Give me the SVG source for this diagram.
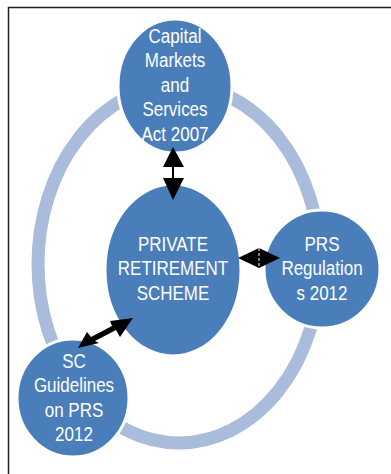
<svg xmlns="http://www.w3.org/2000/svg" width="391" height="474" viewBox="0 0 391 474">
<style>
.node{fill:#4a7ebb;stroke:#ffffff;stroke-width:3}
.lbl{font-family:"Liberation Sans Narrow","Liberation Sans",Arial,sans-serif;font-size:17px;fill:#ffffff;text-anchor:middle}
.ring{fill:none;stroke:#a9bcdb;stroke-width:13}
.arr{fill:#000000}
</style>
<rect x="0" y="0" width="391" height="474" fill="#ffffff"/>
<path d="M8.5 474 V7.5 H391" fill="none" stroke="#222222" stroke-width="1.5"/>
<ellipse class="ring" cx="179" cy="264" rx="141" ry="179"/>
<g id="node-capital">
<ellipse class="node" cx="175" cy="86" rx="57" ry="67"/>
<g transform="translate(175,43) scale(1,1.15)"><text class="lbl"><tspan x="0" y="0">Capital</tspan><tspan x="0" y="21.3">Markets</tspan><tspan x="0" y="42.6">and</tspan><tspan x="0" y="63.9">Services</tspan><tspan x="0" y="85.2">Act 2007</tspan></text></g>
</g>
<g id="node-prs-scheme">
<ellipse class="node" cx="173" cy="270" rx="68" ry="86"/>
<g transform="translate(173,251) scale(1,1.15)"><text class="lbl"><tspan x="0" y="0">PRIVATE</tspan><tspan x="0" y="21.3">RETIREMENT</tspan><tspan x="0" y="42.6">SCHEME</tspan></text></g>
</g>
<g id="node-regulations">
<ellipse class="node" cx="322" cy="269" rx="58" ry="59"/>
<g transform="translate(322,251) scale(1,1.15)"><text class="lbl"><tspan x="0" y="0">PRS</tspan><tspan x="0" y="21.3">Regulation</tspan><tspan x="0" y="42.6">s 2012</tspan></text></g>
</g>
<g id="node-guidelines">
<ellipse class="node" cx="73" cy="398" rx="56" ry="59"/>
<g transform="translate(74,368) scale(1,1.15)"><text class="lbl"><tspan x="0" y="0">SC</tspan><tspan x="0" y="21.3">Guidelines</tspan><tspan x="0" y="42.6">on PRS</tspan><tspan x="0" y="63.9">2012</tspan></text></g>
</g>
<g id="connectors">
<path class="arr" d="M173 147 L184 167 L174 167 L174 178 L184 178 L173 200 L163 178 L172 178 L172 167 L163 167 Z"/>
<path class="arr" d="M238 258 L259 248 L280 258 L259 268 Z"/>
<line x1="259" y1="248" x2="259" y2="268" stroke="#ffffff" stroke-width="1" stroke-dasharray="3 2"/>
<path class="arr" d="M78 348 L87 332 L91 337 L112 326 L110 321 L133 318 L120 337 L116 330 L95 341 L99 343 Z"/>
</g>
</svg>
